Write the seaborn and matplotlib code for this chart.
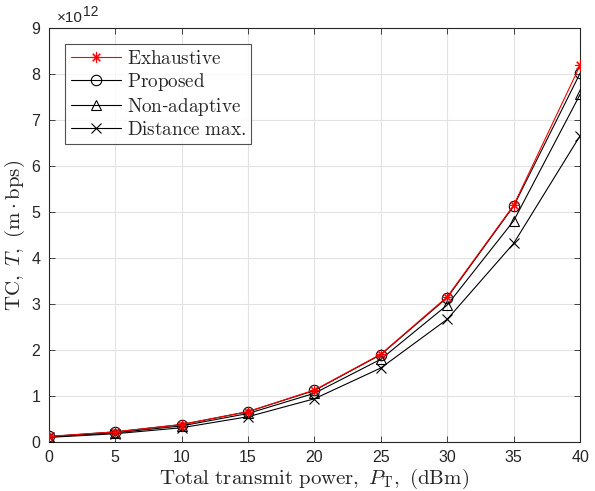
import matplotlib
matplotlib.use("Agg")
import matplotlib.pyplot as plt
import seaborn as sns
import pandas as pd

# Total transmit power (dBm)
power_dbm = [0, 5, 10, 15, 20, 25, 30, 35, 40]

# Total capacity in units of 1e12 (m·bps)
exhaustive = [0.12, 0.22, 0.38, 0.66, 1.13, 1.91, 3.16, 5.15, 8.19]
proposed = [0.12, 0.22, 0.38, 0.66, 1.12, 1.90, 3.14, 5.13, 8.02]
non_adaptive = [0.11, 0.20, 0.35, 0.62, 1.06, 1.80, 2.98, 4.81, 7.56]
distance_max = [0.10, 0.18, 0.31, 0.55, 0.94, 1.61, 2.67, 4.32, 6.66]

series_names = ["Exhaustive", "Proposed", "Non-adaptive", "Distance max."]
series_values = [exhaustive, proposed, non_adaptive, distance_max]

sns.set_style("ticks")
plt.rcParams["font.family"] = ["Liberation Sans", "DejaVu Sans"]
plt.rcParams["mathtext.fontset"] = "cm"

frames = []
for name, vals in zip(series_names, series_values):
    frames.append(pd.DataFrame({"P": power_dbm, "TC": vals, "Scheme": name}))
df = pd.concat(frames, ignore_index=True)

fig = plt.figure(figsize=(5.95, 4.91), dpi=100)
ax = fig.add_axes([0.082, 0.0998, 0.893, 0.843])

styles = {
    "Exhaustive": dict(color="red", marker=(8, 2, 0), ms=7.5, mfc="red", mec="red", zorder=5),
    "Proposed": dict(color="black", marker="o", ms=7.5, mfc="none", mec="black", zorder=4),
    "Non-adaptive": dict(color="black", marker="^", ms=7.5, mfc="none", mec="black", zorder=3),
    "Distance max.": dict(color="black", marker="x", ms=6.5, mfc="none", mec="black", zorder=2),
}
legend_labels = {
    "Exhaustive": r"$\mathrm{Exhaustive}$",
    "Proposed": r"$\mathrm{Proposed}$",
    "Non-adaptive": r"$\mathrm{Non}$-$\mathrm{adaptive}$",
    "Distance max.": r"$\mathrm{Distance\ max.}$",
}

for name in series_names:
    st = styles[name]
    sns.lineplot(data=df[df["Scheme"] == name], x="P", y="TC", ax=ax,
                 color=st["color"], linewidth=0.8, marker=st["marker"],
                 markersize=st["ms"], markerfacecolor=st["mfc"],
                 markeredgecolor=st["mec"], markeredgewidth=0.8,
                 label=legend_labels[name], zorder=st["zorder"])

ax.set_xlim(0, 40)
ax.set_ylim(0, 9)
ax.set_xticks(range(0, 41, 5))
ax.set_yticks(range(0, 10))
ax.grid(True, color="#e3e3e3", linewidth=0.8)
ax.set_axisbelow(True)
for sp in ax.spines.values():
    sp.set_visible(True)
    sp.set_color("#262626")
    sp.set_linewidth(0.8)
ax.tick_params(direction="in", top=True, right=True, labelsize=11.5,
               colors="#262626", length=4, width=0.6, pad=6)

ax.set_xlabel(r"$\mathrm{Total\ transmit\ power,}\ P_{\mathrm{T}}\mathrm{,\ (dBm)}$",
              fontsize=15, labelpad=1)
ax.set_ylabel(r"$\mathrm{TC,}\ T\mathrm{,\ (m}\cdot\mathrm{bps)}$", fontsize=15, labelpad=3)

ax.text(0.015, 1.008, "×10", transform=ax.transAxes, fontsize=11,
        color="#262626", ha="left", va="bottom")
ax.text(0.064, 1.022, "12", transform=ax.transAxes, fontsize=10,
        color="#262626", ha="left", va="bottom")

leg = ax.legend(loc="upper left", bbox_to_anchor=(0.02, 0.975), fontsize=13.8,
                frameon=True, fancybox=False, edgecolor="#262626",
                handlelength=2.6, handletextpad=0.3, borderpad=0.3,
                labelspacing=0.15, borderaxespad=0.3)
leg.get_frame().set_linewidth(0.8)

fig.savefig("out.png", dpi=100)
